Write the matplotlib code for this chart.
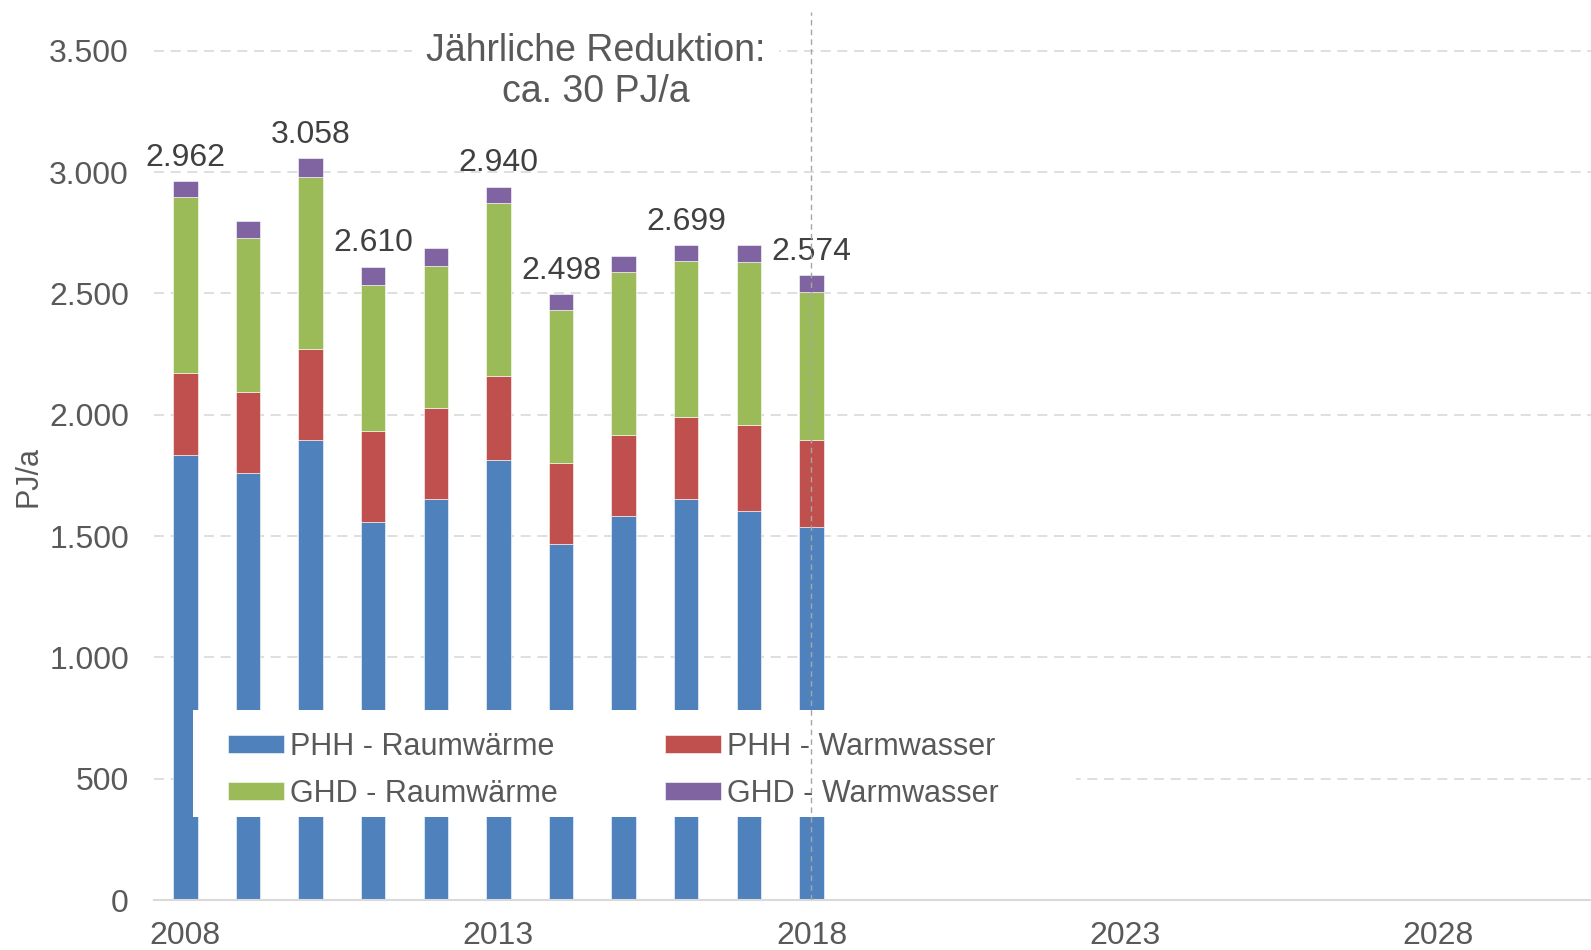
import numpy as np
import matplotlib
matplotlib.use("Agg")
import matplotlib.pyplot as plt
from matplotlib.patches import Rectangle

plt.rcParams['font.family'] = ['Liberation Sans', 'DejaVu Sans']

# data (PJ/a)
years = np.arange(2008, 2019)
phh_raum = [1834, 1761, 1896, 1556, 1651, 1813, 1467, 1584, 1652, 1602, 1536]
phh_ww = [337, 331, 374, 378, 375, 345, 333, 331, 340, 354, 361]
ghd_raum = [725, 635, 711, 602, 588, 715, 633, 673, 642, 675, 608]
ghd_ww = [66, 70, 77, 74, 73, 67, 65, 67, 65, 67, 69]
labelled_years = [2008, 2010, 2011, 2013, 2014, 2016, 2018]
series_names = ["PHH - Raumwärme", "PHH - Warmwasser", "GHD - Raumwärme", "GHD - Warmwasser"]
xticks = [2008, 2013, 2018, 2023, 2028]
yticks = [0, 500, 1000, 1500, 2000, 2500, 3000, 3500]

colors = ["#4F81BD", "#C0504D", "#9BBB59", "#8064A2"]
W, H = 1591, 950

fig = plt.figure(figsize=(W / 100, H / 100), dpi=100)
ax = fig.add_axes([154 / W, 50 / H, (W - 154) / W, 888 / H])

bars = []
bottom = np.zeros(len(years))
for vals, name, c in zip([phh_raum, phh_ww, ghd_raum, ghd_ww], series_names, colors):
    b = ax.bar(years, vals, 0.39, bottom=bottom, color=c, label=name,
               edgecolor="white", linewidth=0.4, zorder=2)
    bars.append(b)
    bottom = bottom + np.array(vals)

totals = bottom
for y, t in zip(years, totals):
    if y in labelled_years:
        ax.annotate(f"{int(t):,}".replace(",", "."), (y, t), xytext=(0, 6),
                    textcoords="offset points", ha="center", va="bottom",
                    fontsize=23, color="#404040", zorder=3)

ax.set_xlim(2007.5, 2030.45)
ax.set_ylim(0, 3660)
ax.set_xticks(xticks)
ax.set_yticks(yticks)
ax.set_yticklabels([f"{v:,}".replace(",", ".") for v in yticks])
ax.tick_params(axis="both", length=0, labelsize=23, colors="#595959")
ax.tick_params(axis="y", pad=18)
ax.tick_params(axis="x", pad=15)
ax.set_ylabel("PJ/a", fontsize=22, color="#595959")
ax.yaxis.set_label_coords(-0.077, 0.477)

ax.set_axisbelow(True)
ax.yaxis.grid(True, color="#d9d9d9", linestyle=(0, (6, 4)), linewidth=1.2)
for s in ["left", "right", "top"]:
    ax.spines[s].set_visible(False)
ax.spines["bottom"].set_color("#d9d9d9")
ax.spines["bottom"].set_linewidth(1.5)

# vertical marker at last historic year
ax.axvline(2018, color="#a6a6a6", linestyle=(0, (4, 3)), linewidth=1, zorder=7)

# annotation
ax.text(2014.55, 3415, "Jährliche Reduktion:\nca. 30 PJ/a", ha="center", va="center",
        fontsize=27, color="#595959", linespacing=1.15, zorder=4,
        bbox=dict(facecolor="white", edgecolor="none", pad=10))

# legend with white box
ax.add_patch(Rectangle((193 / W, 1 - 817 / H), (1076 - 193) / W, (817 - 710) / H,
                       transform=fig.transFigure, facecolor="white", edgecolor="none",
                       zorder=5, clip_on=False))
order = [0, 2, 1, 3]
leg = ax.legend([bars[i] for i in order], [series_names[i] for i in order],
                loc="upper left", bbox_to_anchor=(228 / W, 1 - 732 / H),
                bbox_transform=fig.transFigure, ncol=2, frameon=False, fontsize=22,
                handlelength=1.83, handleheight=0.5, handletextpad=0.2,
                columnspacing=3.5, labelspacing=0.55, borderpad=0, borderaxespad=0)
leg.set_zorder(6)
for t in leg.get_texts():
    t.set_color("#595959")

fig.savefig("out.png", dpi=100)
